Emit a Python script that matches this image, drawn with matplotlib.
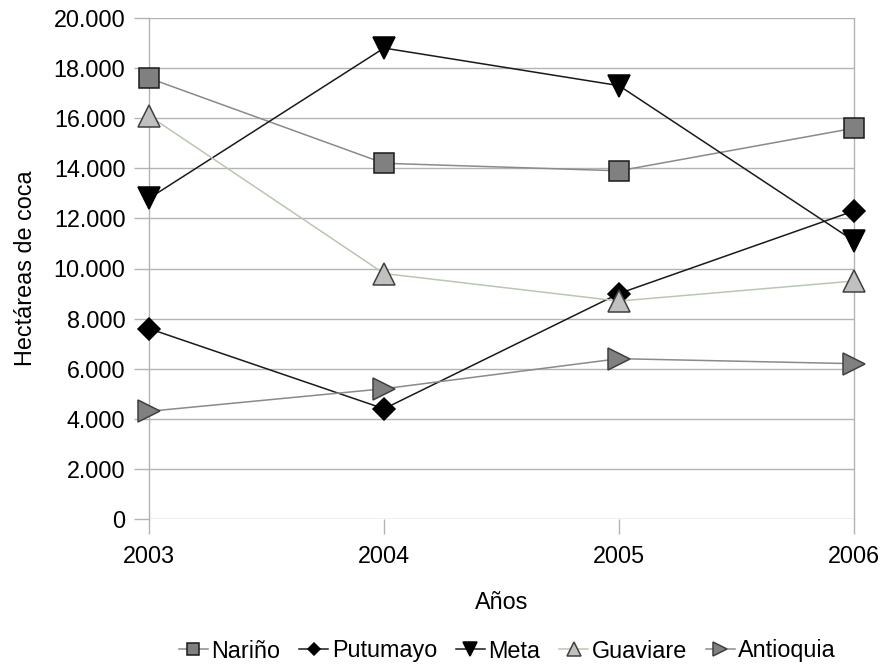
import matplotlib
matplotlib.use("Agg")
import matplotlib.pyplot as plt
from matplotlib.ticker import FuncFormatter, MultipleLocator

plt.rcParams['font.family'] = ['Liberation Sans', 'DejaVu Sans']

years = [2003, 2004, 2005, 2006]
narino = [17600, 14200, 13900, 15600]
putumayo = [7600, 4400, 9000, 12300]
meta = [12800, 18800, 17300, 11100]
guaviare = [16100, 9800, 8700, 9500]
antioquia = [4300, 5200, 6400, 6200]

series = [
    ("Nariño", narino, dict(color="#8a8a8a", marker="s", ms=15, mfc="#808080", mec="#1a1a1a")),
    ("Putumayo", putumayo, dict(color="#1a1a1a", marker="D", ms=11, mfc="#000000", mec="#000000")),
    ("Meta", meta, dict(color="#1a1a1a", marker="v", ms=16, mfc="#000000", mec="#000000")),
    ("Guaviare", guaviare, dict(color="#b8c8b0", marker="^", ms=16, mfc="#c0c0c0", mec="#404040")),
    ("Antioquia", antioquia, dict(color="#8a8a8a", marker=">", ms=16, mfc="#808080", mec="#404040")),
]

FS = 16.8

fig = plt.figure(figsize=(8.81, 6.64), dpi=100)
ax = fig.add_axes([149 / 881, 1 - 519 / 664, (854 - 149) / 881, (519 - 18) / 664])

for name, vals, st in series:
    ax.plot(years, vals, lw=1.1, mew=1.1, label=name, clip_on=False, zorder=3, **st)

ax.set_xlim(2003, 2006)
ax.set_ylim(0, 20000)
ax.set_xticks(years)
ax.yaxis.set_major_locator(MultipleLocator(2000))
ax.yaxis.set_major_formatter(FuncFormatter(lambda v, p: f"{int(v):,}".replace(",", ".")))

ax.grid(True, axis="y", color="#b3b3b3", lw=1)
ax.set_axisbelow(True)
for side in ("top", "bottom"):
    ax.spines[side].set_visible(False)
for side in ("left", "right"):
    ax.spines[side].set_color("#b3b3b3")
    ax.spines[side].set_linewidth(1)
ax.tick_params(axis="both", colors="#b3b3b3", length=11, width=1,
               labelcolor="#000000", labelsize=FS)
ax.tick_params(axis="y", pad=6)
ax.tick_params(axis="x", pad=8)

ax.set_ylabel("Hectáreas de coca", fontsize=FS, labelpad=12)
ax.set_xlabel("Años", fontsize=FS, labelpad=16)

leg = fig.legend(loc="center", bbox_to_anchor=(0.576, 1 - 651 / 664), ncol=5,
                 frameon=False, fontsize=FS, markerscale=0.6, handlelength=1.25,
                 handletextpad=0.15, columnspacing=0.8)

fig.savefig("out.png", dpi=100)
